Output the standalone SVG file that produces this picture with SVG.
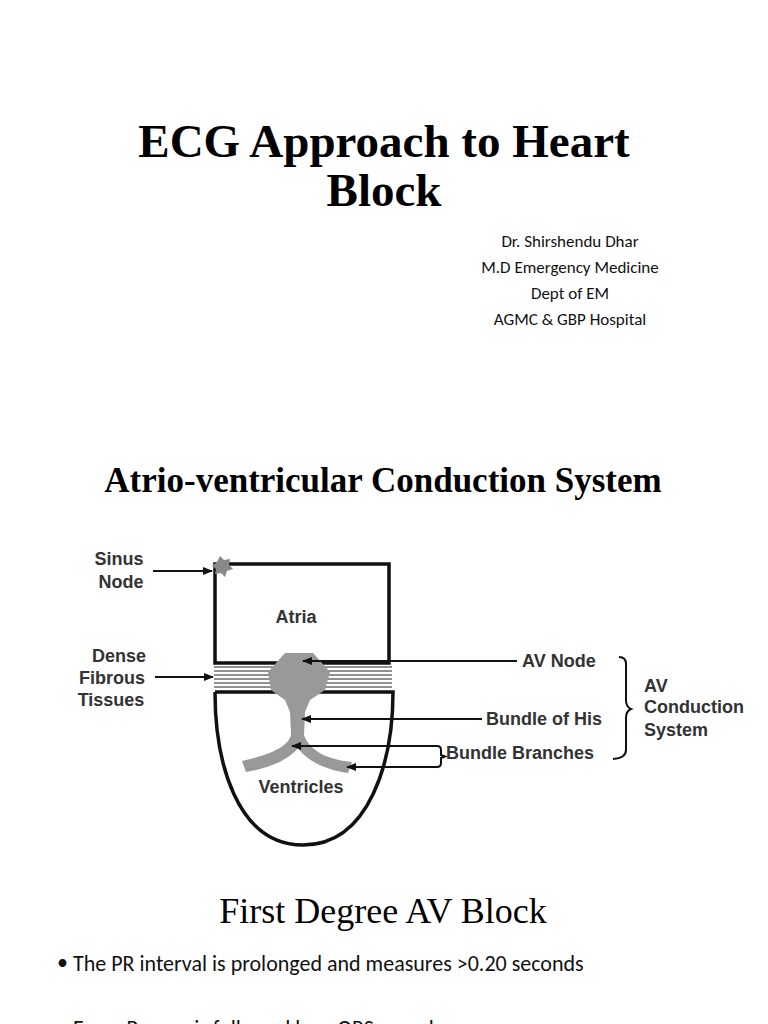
<svg xmlns="http://www.w3.org/2000/svg" width="768" height="1024" viewBox="0 0 768 1024">
<defs>
<style>
.t{font-family:"Liberation Serif",serif;fill:#000}
.c{font-family:Carlito,"Liberation Sans",sans-serif;fill:#111}
.d{font-family:"Liberation Sans",Arial,sans-serif;font-size:18px;font-weight:bold;fill:#333}
.ln{stroke:#111;stroke-width:2;fill:none}
</style>
<marker id="ah" markerWidth="10" markerHeight="10" refX="9" refY="5" orient="auto" markerUnits="userSpaceOnUse"><path d="M0,1 L10,5 L0,9 z" fill="#111"/></marker>
</defs>
<rect width="768" height="1024" fill="#fff"/>
<text class="t" x="384" y="157" font-size="47" font-weight="bold" text-anchor="middle">ECG Approach to Heart</text>
<text class="t" x="384" y="206" font-size="47" font-weight="bold" text-anchor="middle">Block</text>
<g class="c" font-size="17" text-anchor="middle">
<text x="570" y="247">Dr. Shirshendu Dhar</text>
<text x="570" y="273">M.D Emergency Medicine</text>
<text x="570" y="299">Dept of EM</text>
<text x="570" y="325">AGMC &amp; GBP Hospital</text>
</g>
<text class="t" x="383" y="492" font-size="35" font-weight="bold" text-anchor="middle">Atrio-ventricular Conduction System</text>
<g id="atria"><rect x="215" y="564" width="174" height="99" fill="none" stroke="#111" stroke-width="3.5"/><text class="d" x="296" y="623" text-anchor="middle">Atria</text></g>
<g id="fibrous" stroke="#222" stroke-width="1">
<line x1="214" y1="667" x2="392" y2="667"/><line x1="214" y1="671" x2="392" y2="671"/><line x1="214" y1="675" x2="392" y2="675"/><line x1="214" y1="679" x2="392" y2="679"/><line x1="214" y1="683" x2="392" y2="683"/><line x1="214" y1="687" x2="392" y2="687"/>
</g>
<g id="ventricles"><path d="M215,692 L393,692 C393,760 370,845 303,845 C236,845 215,760 215,692" fill="none" stroke="#111" stroke-width="3.5"/><text class="d" x="301" y="793" text-anchor="middle" font-size="15">Ventricles</text></g>
<g id="sinus"><path d="M212,566 l5,-4 l3,-6 l4,4 l6,-1 l-1,6 l4,4 l-6,2 l-2,6 l-4,-4 l-6,1 l1,-5z" fill="#888"/></g>
<g id="conduction" fill="#999">
<path d="M285,653 L313,653 L330,672 L325,690 L310,700 L305,712 L304,735 C310,752 330,760 352,762 L348,773 C325,770 306,760 298,748 C288,760 270,768 246,772 L242,761 C265,756 288,748 291,735 L290,712 L285,700 L271,690 L268,672 z"/>
</g>
<g id="labels" class="d">
<text x="119" y="565" text-anchor="middle">Sinus</text><text x="121" y="588" text-anchor="middle">Node</text>
<text x="119" y="662" text-anchor="middle">Dense</text><text x="112" y="684" text-anchor="middle">Fibrous</text><text x="111" y="706" text-anchor="middle">Tissues</text>
<text x="522" y="667">AV Node</text>
<text x="486" y="725">Bundle of His</text>
<text x="446" y="759">Bundle Branches</text>
<text x="644" y="692">AV</text><text x="644" y="713">Conduction</text><text x="644" y="736">System</text>
</g>
<g id="connectors">
<line class="ln" x1="153" y1="571" x2="212" y2="571" marker-end="url(#ah)"/>
<line class="ln" x1="155" y1="677" x2="213" y2="677" marker-end="url(#ah)"/>
<line class="ln" x1="517" y1="661" x2="303" y2="661" marker-end="url(#ah)"/>
<line class="ln" x1="482" y1="719" x2="302" y2="719" marker-end="url(#ah)"/>
<line class="ln" x1="437" y1="746" x2="292" y2="746" marker-end="url(#ah)"/>
<line class="ln" x1="437" y1="767" x2="347" y2="767" marker-end="url(#ah)"/>
<path class="ln" stroke-width="1.5" d="M437,746 Q441,746 441,750 L441,755 L445,756.5 L441,758 L441,763 Q441,767 437,767"/>
<path class="ln" stroke-width="1.5" d="M619,657 Q626,657 626,664 L626,700 Q626,707 631,709 Q626,711 626,718 L626,750 Q626,758 613,759"/>
</g>
<text class="t" x="383" y="923" font-size="36" text-anchor="middle">First Degree AV Block</text>
<g class="c" font-size="22">
<text x="57" y="970">•</text><text x="73" y="971">The PR interval is prolonged and measures &gt;0.20 seconds</text>
<text x="57" y="1035">•</text><text x="73" y="1036">Every P wave is followed by a QRS complex</text>
</g>
</svg>
